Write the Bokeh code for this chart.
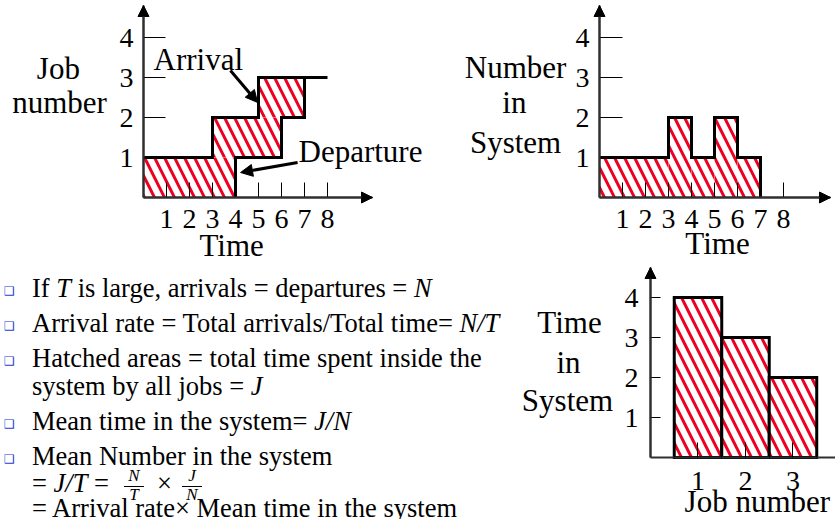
from bokeh.plotting import figure
from bokeh.models import Range1d, FixedTicker, Label, Arrow, NormalHead, Div
from bokeh.layouts import row, column
from bokeh.embed import file_html
from bokeh.resources import INLINE

# ---------------- data ----------------
job_numbers = [1, 2, 3]
arrival_times = [0, 3, 5]
departure_times = [4, 6, 7]
arrival_end = 8
time_ticks = [1, 2, 3, 4, 5, 6, 7, 8]
level_ticks = [1, 2, 3, 4]
change_times = [0, 3, 4, 5, 6, 7]
number_in_system = [1, 2, 1, 2, 1, 0]
time_in_system = [4, 3, 2]
job_ticks = [1, 2, 3]
job_minor_ticks = [0.5, 1.5, 2.5, 3.5]

FONT = "Liberation Serif"
HATCH = "#ee0022"
AXIS = "#303030"
TICK_FS = "28px"
TITLE_FS = "31px"

HATCH_KW = dict(fill_color="white", hatch_pattern="left_diagonal_line",
                hatch_color=HATCH, hatch_scale=20, hatch_weight=3)


def make_fig(w, h, xr, yr):
    p = figure(width=w, height=h, x_range=Range1d(*xr), y_range=Range1d(*yr),
               output_backend="svg", toolbar_location=None,
               min_border_left=0, min_border_right=0, min_border_top=0, min_border_bottom=0,
               background_fill_color="white", border_fill_color="white")
    p.grid.visible = False
    p.outline_line_color = None
    p.margin = 0
    return p


def style_axis(ax, ticks, bounds, tick_in, standoff, minor=None):
    ax.fixed_location = 0
    ax.bounds = bounds
    ax.ticker = FixedTicker(ticks=ticks, minor_ticks=minor or [])
    ax.major_tick_in = tick_in
    ax.major_tick_out = 0
    ax.minor_tick_in = tick_in if minor else 0
    ax.minor_tick_out = 0
    ax.major_tick_line_color = "black"
    ax.minor_tick_line_color = "black" if minor else None
    ax.major_tick_line_width = 1
    ax.minor_tick_line_width = 1
    ax.axis_line_color = AXIS
    ax.axis_line_width = 2
    ax.major_label_text_font = FONT
    ax.major_label_text_font_size = TICK_FS
    ax.major_label_text_color = "black"
    ax.major_label_standoff = standoff


def title(p, x, y, text, align="center", size=TITLE_FS):
    p.add_layout(Label(x=x, y=y, text=text, text_font=FONT, text_font_size=size,
                       text_align=align, text_baseline="alphabetic", text_color="black"))


def head(size=11):
    return NormalHead(size=size, fill_color="black", line_color="black", line_width=1)


def axis_arrows(p, xmax, ymax, xarrow=True):
    p.add_layout(Arrow(x_start=0, y_start=0, x_end=0, y_end=ymax, line_color=AXIS,
                       line_width=2, end=head()))
    if xarrow:
        p.add_layout(Arrow(x_start=0, y_start=0, x_end=xmax, y_end=0, line_color=AXIS,
                           line_width=2, end=head()))


# ---------------- chart 1: job number vs time ----------------
X1, Y1 = 9.957, 4.8
p1 = make_fig(430, 262, (-6.217, 12.478), (-1.625, 4.925))
style_axis(p1.xaxis[0], time_ticks, (0, X1), 15, 12)
style_axis(p1.yaxis[0], level_ticks, (0, Y1), 22, 10)

p1.quad(left=arrival_times, right=departure_times,
        bottom=[j - 1 for j in job_numbers], top=job_numbers, line_color=None, **HATCH_KW)

ax_ = [arrival_times[0]]
ay_ = [job_numbers[0]]
for t, j in zip(arrival_times[1:], job_numbers[1:]):
    ax_ += [t, t]
    ay_ += [j - 1, j]
ax_.append(arrival_end)
ay_.append(job_numbers[-1])
p1.line(ax_, ay_, line_color="black", line_width=3, line_join="miter")

dx_, dy_ = [], []
for t, j in zip(departure_times, job_numbers):
    dx_ += [t, t]
    dy_ += [j - 1, j]
p1.line(dx_, dy_, line_color="black", line_width=3, line_join="miter")

axis_arrows(p1, X1, Y1)
title(p1, -3.70, 3.225, "Job")
title(p1, -3.65, 2.375, "number")
title(p1, 0.435, 3.45, "Arrival", align="left")
title(p1, 6.74, 1.15, "Departure", align="left")
title(p1, 3.83, -1.2, "Time")
p1.add_layout(Arrow(x_start=3.78, y_start=3.175, x_end=arrival_times[2] - 0.04, y_end=2.375,
                    line_color="black", line_width=3, end=head(12)))
p1.add_layout(Arrow(x_start=6.70, y_start=0.875, x_end=departure_times[0] + 0.22, y_end=0.625,
                    line_color="black", line_width=3, end=head(12)))

# ---------------- chart 2: number in system vs time ----------------
X2, Y2 = 10.043, 4.8
p2 = make_fig(405, 262, (-7.348, 10.261), (-1.625, 4.925))
style_axis(p2.xaxis[0], time_ticks, (0, X2), 15, 12)
style_axis(p2.yaxis[0], level_ticks, (0, Y2), 23, 10)
p2.quad(left=change_times[:-1], right=change_times[1:], bottom=0,
        top=number_in_system[:-1], line_color=None, **HATCH_KW)
p2.step(change_times, number_in_system, mode="after", line_color="black", line_width=3,
        line_join="miter")
axis_arrows(p2, X2, Y2)
title(p2, -3.65, 3.25, "Number")
title(p2, -3.70, 2.375, "in")
title(p2, -3.65, 1.375, "System")
title(p2, 5.13, -1.15, "Time")

# ---------------- chart 3: time in system per job ----------------
X4, Y4 = 3.895, 4.75
p4 = make_fig(317, 257, (-2.779, 3.895), (-1.55, 4.875))
style_axis(p4.xaxis[0], job_ticks, (0, X4), 15, 14, minor=job_minor_ticks)
style_axis(p4.yaxis[0], level_ticks, (0, Y4), 10, 12)
p4.quad(left=[j - 0.5 for j in job_numbers], right=[j + 0.5 for j in job_numbers],
        bottom=0, top=time_in_system, line_color="black", line_width=3, line_join="miter",
        **HATCH_KW)
axis_arrows(p4, X4, Y4, xarrow=False)
title(p4, -1.705, 3.375, "Time")
title(p4, -1.726, 2.375, "in")
title(p4, -1.747, 1.425, "System")
title(p4, 2.25, -1.1, "Job number")

# ---------------- bullet text ----------------
FS = 26.5
LH = 18          # line box height used for the main text
FR = 17          # fraction font size
FLH = 10         # fraction line box height


def top_of(baseline, size, lh):
    # CSS: baseline sits at half-leading + ascent (Liberation Serif 0.891 / 0.216)
    return round(baseline - 262 - ((lh - 1.107 * size) / 2 + 0.891 * size), 2)


def piece(baseline, html, left=32, size=FS, lh=LH, extra=""):
    t = top_of(baseline, size, lh)
    return (f'<div style="position:absolute;left:{left}px;top:{t}px;white-space:nowrap;'
            f'font-size:{size}px;line-height:{lh}px;{extra}">{html}</div>')


def bullet(baseline):
    return (f'<div style="position:absolute;left:4px;top:{baseline - 262 - 11}px;'
            f"font-family:'DejaVu Sans';font-size:12px;line-height:13px;color:#1e3cd2\">&#x2751;</div>")


def frac(center, num, den):
    w = 30
    return (piece(482, f"<i>{num}</i>", left=center - w // 2, size=FR, lh=FLH,
                  extra=f"width:{w}px;text-align:center;") +
            f'<div style="position:absolute;left:{center - 10}px;top:{486 - 262}px;width:20px;'
            f'height:1px;background:#000"></div>' +
            piece(501, f"<i>{den}</i>", left=center - w // 2, size=FR, lh=FLH,
                  extra=f"width:{w}px;text-align:center;"))


parts = [
    bullet(296), piece(297, "If <i>T</i> is large, arrivals = departures = <i>N</i>"),
    bullet(331), piece(332, "Arrival rate = Total arrivals/Total time= <i>N/T</i>"),
    bullet(366), piece(367, "Hatched areas = total time spent inside the"),
    piece(395, "system by all jobs = <i>J</i>"),
    bullet(429), piece(430, "Mean time in the system= <i>J/N</i>"),
    bullet(464), piece(465, "Mean Number in the system"),
    piece(492, "= <i>J/T</i> ="),
    frac(134, "N", "T"),
    piece(492, "&#215;", left=157),
    frac(192, "J", "N"),
    piece(517, "= Arrival rate&#215; Mean time in the system"),
]
html = ('<div style="position:relative;width:518px;height:257px;overflow:hidden;'
        f"font-family:'{FONT}';color:#000;background:#fff\">" + "".join(parts) + "</div>")
div = Div(text=html, width=518, height=257, margin=0, styles={"overflow": "hidden"})

layout = column(row(p1, p2, spacing=0), row(div, p4, spacing=0), spacing=0)

with open("out.html", "w") as f:
    f.write(file_html(layout, INLINE))
